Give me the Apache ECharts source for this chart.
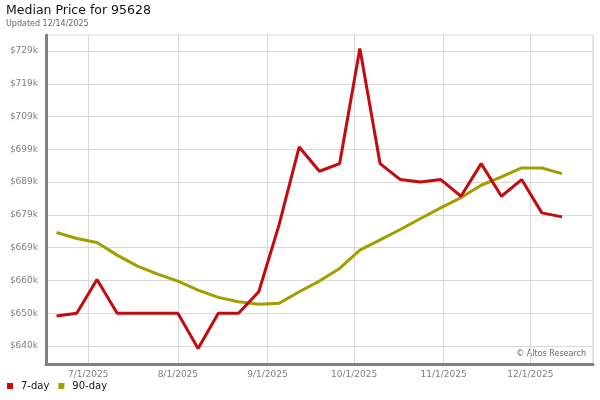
<!DOCTYPE html>
<html>
<head>
<meta charset="utf-8">
<script src="https://cdn.jsdelivr.net/npm/echarts@6/dist/echarts.min.js"></script>
<style>html,body{margin:0;padding:0;background:#fff}#c{width:600px;height:400px}</style>
</head>
<body>
<div id="c"></div>
<script>
// Weekly dates (Fridays)
var dates = ['2025-06-20','2025-06-27','2025-07-04','2025-07-11','2025-07-18','2025-07-25',
  '2025-08-01','2025-08-08','2025-08-15','2025-08-22','2025-08-29','2025-09-05','2025-09-12',
  '2025-09-19','2025-09-26','2025-10-03','2025-10-10','2025-10-17','2025-10-24','2025-10-31',
  '2025-11-07','2025-11-14','2025-11-21','2025-11-28','2025-12-05','2025-12-12'];
// values in $k
var sevenDay = [649.4, 650.2, 660.4, 650.2, 650.2, 650.2, 650.2, 639.6, 650.2, 650.2, 656.7, 676.7, 700.2,
  692.9, 695.2, 729.8, 695.2, 690.4, 689.7, 690.4, 685.4, 695.2, 685.4, 690.4, 680.4, 679.2];
var ninetyDay = [674.5, 672.7, 671.5, 667.7, 664.4, 662.0, 659.9, 657.2, 655.0, 653.7, 652.9, 653.2, 656.7,
  659.9, 663.7, 669.2, 672.3, 675.4, 678.7, 681.9, 685.0, 688.7, 691.2, 693.9, 693.9, 692.2];
// y tick values ($k): first tick, step, last tick
var yTickFirst = 640.38;
var yTickStep = 9.852;
var yTickLast = 729.05;
var xTickLabels = ['7/1/2025','8/1/2025','9/1/2025','10/1/2025','11/1/2025','12/1/2025'];

var chart = echarts.init(document.getElementById('c'), null, {renderer: 'canvas'});
function pair(arr){ return dates.map(function(d,i){ return [d, arr[i]]; }); }
var font = 'DejaVu Sans';
chart.setOption({
  animation: false,
  backgroundColor: '#ffffff',
  title: {
    text: 'Median Price for 95628',
    subtext: 'Updated 12/14/2025',
    left: 6, top: 4, padding: 0, itemGap: 3,
    textStyle: {fontFamily: font, fontSize: 12.5, fontWeight: 'normal', color: '#111'},
    subtextStyle: {fontFamily: font, fontSize: 8, color: '#666'}
  },
  legend: {
    left: 7, top: 381, padding: 0, itemGap: 9, itemWidth: 6, itemHeight: 6, icon: 'rect',
    textStyle: {fontFamily: font, fontSize: 10, color: '#111', padding: [0,0,0,3]},
    data: ['7-day', '90-day']
  },
  grid: [
    {left: 46, right: 7, top: 35, bottom: 36, show: true, borderColor: '#d9d9d9', borderWidth: 1, z: 0},
    // tick grid: spans exactly from first to last y tick
    {left: 46, right: 7, top: 51, bottom: 54, show: false, z: 0}
  ],
  xAxis: [{
    type: 'time', gridIndex: 0,
    min: new Date(2025,5,16,8,36).getTime(),
    max: new Date(2025,11,22,16,48).getTime(),
    minInterval: 28*864e5, maxInterval: 31*864e5,
    axisLine: {show: true, lineStyle: {color: '#808080', width: 3}},
    axisTick: {show: false},
    minorTick: {show: false},
    splitLine: {show: true, lineStyle: {color: '#d9d9d9', width: 1}},
    axisLabel: {
      fontFamily: font, fontSize: 9, color: '#808080', margin: 6,
      formatter: function(v){ var d = new Date(v); return (d.getMonth()+1)+'/'+d.getDate()+'/'+d.getFullYear(); },
      showMinLabel: false, showMaxLabel: false
    }
  }, {
    type: 'value', gridIndex: 1, min: 0, max: 1, show: false
  }],
  yAxis: [{
    type: 'value', gridIndex: 0, min: 634.97, max: 733.86,
    axisLine: {show: true, lineStyle: {color: '#808080', width: 3}},
    axisTick: {show: false},
    splitLine: {show: false},
    axisLabel: {show: false},
    z: 3
  }, {
    type: 'value', gridIndex: 1, min: yTickFirst, max: yTickLast, interval: yTickStep,
    axisLine: {show: false},
    axisTick: {show: false},
    splitLine: {show: true, lineStyle: {color: '#d9d9d9', width: 1}},
    axisLabel: {
      fontFamily: font, fontSize: 9, color: '#808080', margin: 8,
      formatter: function(v){ return '$' + Math.floor(v + 1e-6) + 'k'; }
    },
    z: 0
  }],
  graphic: [{
    type: 'text', right: 14, top: 350,
    style: {text: '\u00a9 Altos Research', font: '8px "DejaVu Sans"', fill: '#666'}
  }],
  series: [
    {name: '7-day', type: 'line', xAxisIndex: 0, yAxisIndex: 0, data: pair(sevenDay), showSymbol: false, symbol: 'none',
     lineStyle: {color: '#c40a0f', width: 3}, itemStyle: {color: '#c40a0f'}, z: 3},
    {name: '90-day', type: 'line', xAxisIndex: 0, yAxisIndex: 0, data: pair(ninetyDay), showSymbol: false, symbol: 'none',
     lineStyle: {color: '#a39e00', width: 3}, itemStyle: {color: '#a39e00'}, z: 2}
  ]
});
</script>
</body>
</html>
